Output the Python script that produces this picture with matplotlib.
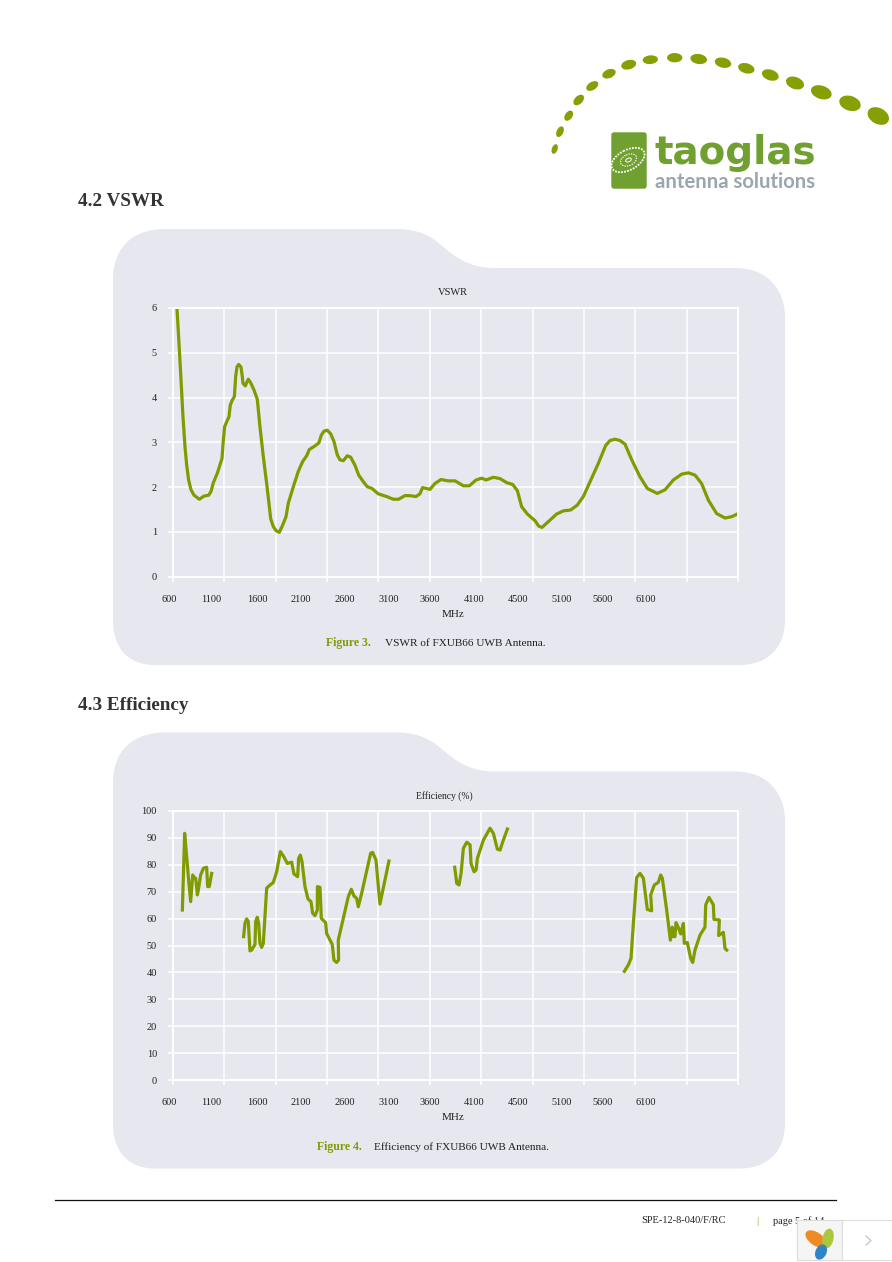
import numpy as np
import matplotlib
matplotlib.use("Agg")
import matplotlib.pyplot as plt
from matplotlib.path import Path
from matplotlib.patches import PathPatch, Ellipse, Rectangle, FancyBboxPatch
from matplotlib.transforms import ScaledTranslation

# ---------- data ----------
vswr_mhz = [645,668,691,713,736,755,777,804,838,898,951,1004,1030,1057,1102,1155,1170,1185,1208,1234,1249,1268,1295,1310,1325,1344,1370,1385,1393,1419,1434,1453,1480,1517,1555,1585,1623,1661,1687,1706,1736,1766,1804,1842,1880,1906,1963,2019,2068,2114,2144,2208,2253,2280,2310,2348,2386,2423,2461,2491,2529,2574,2612,2661,2703,2756,2801,2854,2925,3020,3095,3156,3227,3284,3352,3397,3427,3511,3567,3635,3718,
            3795,3889,3957,4033,4097,4146,4229,4305,4380,4448,4501,4550,4614,4701,4742,4780,4852,4946,5022,5105,5180,5248,5324,5418,5501,5550,5607,5664,5720,5796,5890,5973,6086,6173,6268,6362,6437,6513,6588,6664,6758,6853,6928,6992]
vswr_val = [5.99,5.21,4.39,3.57,2.90,2.49,2.16,1.94,1.82,1.73,1.80,1.82,1.90,2.10,2.31,2.64,3.05,3.35,3.46,3.57,3.83,3.93,4.02,4.47,4.69,4.74,4.68,4.47,4.32,4.26,4.33,4.41,4.33,4.17,3.96,3.35,2.68,2.08,1.64,1.30,1.12,1.03,0.99,1.15,1.34,1.64,2.01,2.35,2.57,2.70,2.84,2.92,2.99,3.16,3.25,3.27,3.19,3.02,2.72,2.61,2.59,2.70,2.67,2.49,2.27,2.12,2.01,1.97,1.85,1.79,1.73,1.73,1.81,1.81,1.79,1.85,1.99,1.95,2.08,2.17,2.14,
            2.14,2.03,2.03,2.16,2.20,2.16,2.22,2.19,2.10,2.06,1.92,1.56,1.40,1.25,1.13,1.10,1.23,1.40,1.47,1.49,1.60,1.79,2.12,2.53,2.93,3.04,3.07,3.04,2.96,2.61,2.23,1.97,1.86,1.94,2.16,2.29,2.32,2.27,2.08,1.71,1.41,1.31,1.34,1.40]

eff1_mhz = [706,732,755,777,800,823,838,857,876,887,913,944,981,993,1011,1038]
eff1_val = [63.2,91.7,83.0,74.3,66.3,76.2,75.3,75.0,68.8,70.6,76.2,78.7,79.1,71.9,71.9,76.8]
eff2_mhz = [1400,1415,1434,1453,1472,1491,1529,1536,1555,1570,1585,1604,1623,1661,1699,1736,1774,1816,1850,1895,1944,1970,2012,2023,2042,2061,2095,2129,2163,2182,2208,2235,2236,2265,2280,2329,2340,2404,2423,2453,2476,2472,2529,2586,2620,2650,2680,2699,2737,2839,2861,2899,2944,3046]
eff2_val = [53.3,58.2,59.9,58.9,48.0,48.3,50.4,58.9,60.5,58.2,50.8,49.3,50.8,71.3,72.5,73.4,77.4,84.9,83.3,80.5,81.0,76.6,75.6,82.4,83.6,81.2,71.9,67.3,66.3,62.0,61.1,63.2,71.9,71.6,60.1,58.5,54.5,50.4,44.6,43.7,44.6,52.0,60.1,68.2,70.9,68.4,67.5,64.4,69.4,84.3,84.6,81.8,65.4,81.4]
eff3_mhz = [3791,3814,3840,3863,3889,3927,3965,3976,4010,4033,4048,4116,4191,4229,4274,4305,4342,4388]
eff3_val = [79.1,73.1,72.5,76.8,86.1,88.4,87.4,80.5,77.4,78.1,82.4,89.2,93.6,91.7,85.8,85.5,89.2,93.3]
eff4_mhz = [5713,5758,5788,5815,5852,5890,5928,5973,6022,6011,6052,6098,6124,6143,6192,6234,6256,6268,6286,6298,6328,6351,6381,6392,6426,6464,6487,6513,6570,6626,6634,6672,6721,6728,6789,6781,6834,6853,6872]
eff4_val = [40.4,42.8,45.2,58.2,75.3,76.8,75.0,63.4,62.9,68.8,72.5,73.5,76.2,75.0,63.2,52.0,56.8,53.3,53.3,58.5,56.4,54.3,58.2,50.8,51.1,45.2,43.7,48.3,53.9,56.8,65.1,67.9,65.1,59.7,59.5,53.7,54.9,48.9,48.3]

x_tick_labels = ["600","1100","1600","2100","2600","3100","3600","4100","4500","5100","5600","6100"]
x_label_pos   = [600,1030,1552,2050,2548,3046,3511,4005,4503,4998,5467,5958]
vswr_ticks = [0,1,2,3,4,5,6]
eff_ticks = [0,10,20,30,40,50,60,70,80,90,100]

# ---------- style ----------
W, H = 892, 1262
PANEL = "#E6E7EF"
GREEN = "#7F9B00"
SERIF = ["Liberation Serif", "DejaVu Serif"]
plt.rcParams["font.family"] = SERIF

fig = plt.figure(figsize=(W/100, H/100), dpi=100, facecolor="white")
bg = fig.add_axes([0, 0, 1, 1], zorder=0)
bg.set_xlim(0, W); bg.set_ylim(H, 0); bg.axis("off")

def panel(dy):
    v = [(113,280),(113,245),(135,229),(165,229),(395,229),(425,229),(435,240),(447,250),
         (462,262),(475,268),(495,268),(735,268),(768,268),(785,290),(785,318),(785,620),
         (785,650),(765,665),(740,665),(155,665),(130,665),(113,650),(113,620),(113,280)]
    c = [Path.MOVETO,Path.CURVE4,Path.CURVE4,Path.CURVE4,Path.LINETO,Path.CURVE4,Path.CURVE4,Path.CURVE4,
         Path.CURVE4,Path.CURVE4,Path.CURVE4,Path.LINETO,Path.CURVE4,Path.CURVE4,Path.CURVE4,Path.LINETO,
         Path.CURVE4,Path.CURVE4,Path.CURVE4,Path.LINETO,Path.CURVE4,Path.CURVE4,Path.CURVE4,Path.CLOSEPOLY]
    v = [(x, y+dy) for x, y in v]
    bg.add_patch(PathPatch(Path(v, c), fc=PANEL, ec="none"))
panel(0); panel(503.5)

def make_axes(top, bottom, ylim, yticks):
    ax = fig.add_axes([173/W, 1-bottom/H, (738-173)/W, (bottom-top)/H], zorder=2, facecolor="none")
    for s in ax.spines.values():
        s.set_color("white"); s.set_linewidth(1.4)
    ax.xaxis.remove_overlapping_locs = False
    ax.set_xticks(np.linspace(600, 7000, 12))
    ax.set_xticklabels([])
    ax.set_xticks(x_label_pos, minor=True)
    ax.set_xticklabels(x_tick_labels, minor=True, fontsize=7.4, color="#222222")
    ax.set_yticks(yticks)
    ax.set_yticklabels([str(t) for t in yticks], fontsize=7.4, color="#222222")
    ax.set_xlim(600, 7000); ax.set_ylim(*ylim)
    ax.tick_params(axis="x", which="major", length=3.6, width=1.1, color="white")
    ax.tick_params(axis="x", which="minor", length=0, pad=13)
    ax.tick_params(axis="y", which="major", length=3.6, width=1.1, color="white", pad=8)
    ax.grid(True, which="major", axis="both", color="white", linewidth=1.1)
    ax.set_axisbelow(True)
    # the first x label sits a little left of the axis start
    lab = ax.xaxis.get_minor_ticks()[0].label1
    lab.set_transform(lab.get_transform() + ScaledTranslation(-4/100, 0, fig.dpi_scale_trans))
    return ax

ax1 = make_axes(308, 576.7, (0, 6), vswr_ticks)
ax1.plot(vswr_mhz, vswr_val, color=GREEN, lw=2.3, solid_joinstyle="round")

ax2 = make_axes(811, 1080, (0, 100), eff_ticks)
for xs, ys in [(eff1_mhz, eff1_val), (eff2_mhz, eff2_val), (eff3_mhz, eff3_val), (eff4_mhz, eff4_val)]:
    ax2.plot(xs, ys, color=GREEN, lw=2.3, solid_joinstyle="round")

def t(x, y, s, size=7.5, color="#222222", ha="center", weight="normal", family=None, z=5, va="center"):
    return bg.text(x, y, s, fontsize=size, color=color, ha=ha, va=va, weight=weight,
                   family=family or SERIF, zorder=z)

t(453, 292.5, "VSWR")
t(453, 614.5, "MHz", size=8)
t(444.5, 796.5, "Efficiency (%)", size=6.9)
t(453, 1118, "MHz", size=8)
t(78, 202, "4.2 VSWR", size=13.8, ha="left", weight="bold", color="#333333")
t(78, 705, "4.3 Efficiency", size=13.8, ha="left", weight="bold", color="#333333")
t(326, 643, "Figure 3.", size=8.5, ha="left", weight="bold", color="#7F9B00")
t(385, 643, "VSWR of FXUB66 UWB Antenna.", size=8.1, ha="left")
t(317, 1147, "Figure 4.", size=8.5, ha="left", weight="bold", color="#7F9B00")
t(374, 1147, "Efficiency of FXUB66 UWB Antenna.", size=8.15, ha="left")

# logo arc (centre x, centre y, short axis, long axis, angle)
dots = [(554.7,149,5.7,10,20),(560,131.7,6.7,11.3,25),(568.7,115.7,7.3,11.3,35),(578.7,100,8,12.7,45),
        (592.3,86,8,13.3,58),(609,73.7,8.7,14,68),(628.7,64.7,9.3,15.3,75),(650.3,59.7,8.7,15.3,85),
        (674.7,57.7,9.3,15.3,90),(698.7,59,10,16.7,98),(723,62.7,10,16.7,103),(746.3,68.3,10,16.7,105),
        (770.3,75,10.7,17.3,108),(795,83,12,18.7,110),(821.3,92.3,13.3,21.3,108),(850,103.3,14.7,22,108),(878.3,116,16,22.7,118)]
for x, y, w, h, a in dots:
    bg.add_patch(Ellipse((x, y), w, h, angle=a, fc="#859F05", ec="none"))

bg.add_patch(FancyBboxPatch((612, 133), 34, 55, boxstyle="round,pad=0,rounding_size=2", fc="#6FA030", ec="#6FA030", lw=1))
bg.add_patch(Ellipse((628, 160), 36, 20, angle=-28, fc="none", ec="white", lw=1.3, ls=(0, (1, 0.7))))
bg.add_patch(Ellipse((628.5, 160), 17, 11, angle=-25, fc="none", ec="white", lw=0.9, ls=(0, (1, 1))))
bg.add_patch(Ellipse((628.5, 160), 6, 3.5, angle=-25, fc="none", ec="white", lw=0.7))
t(654.5, 164, "taoglas", size=28, ha="left", weight="bold", color="#6FA030", family=["DejaVu Sans"], va="baseline")
t(655, 188, "antenna solutions", size=14.6, ha="left", weight="bold", color="#9AA6AD", family=["Lato"], va="baseline")

# footer
bg.plot([55, 836], [1199.5, 1199.5], color="#111111", lw=0.9)
t(641, 1220.5, "SPE-12-8-040/F/RC", size=7.5, ha="left")
t(757, 1221, "|", size=8, color="#7F9B00")
t(773, 1221, "page 5 of 14", size=7.4, ha="left")

# overlay widget
bg.add_patch(Rectangle((796.5, 1220), 95, 39.5, fc="white", ec="#DDDDDD", lw=0.8, zorder=8))
bg.add_patch(Rectangle((796.5, 1220), 45.5, 39.5, fc="#F5F5F5", ec="#DDDDDD", lw=0.8, zorder=8))
bg.add_patch(Ellipse((816, 1239), 24, 13, angle=35, fc="#F08A24", ec="none", zorder=9))
bg.add_patch(Ellipse((828, 1238.5), 11, 20, angle=12, fc="#A9C83C", ec="none", zorder=9))
bg.add_patch(Ellipse((821, 1252), 11, 16, angle=25, fc="#2D84C8", ec="none", zorder=9))
bg.plot([866, 871, 866], [1236, 1240.5, 1245], color="#BBBBBB", lw=0.8, zorder=9)

fig.savefig("out.png", dpi=100)
